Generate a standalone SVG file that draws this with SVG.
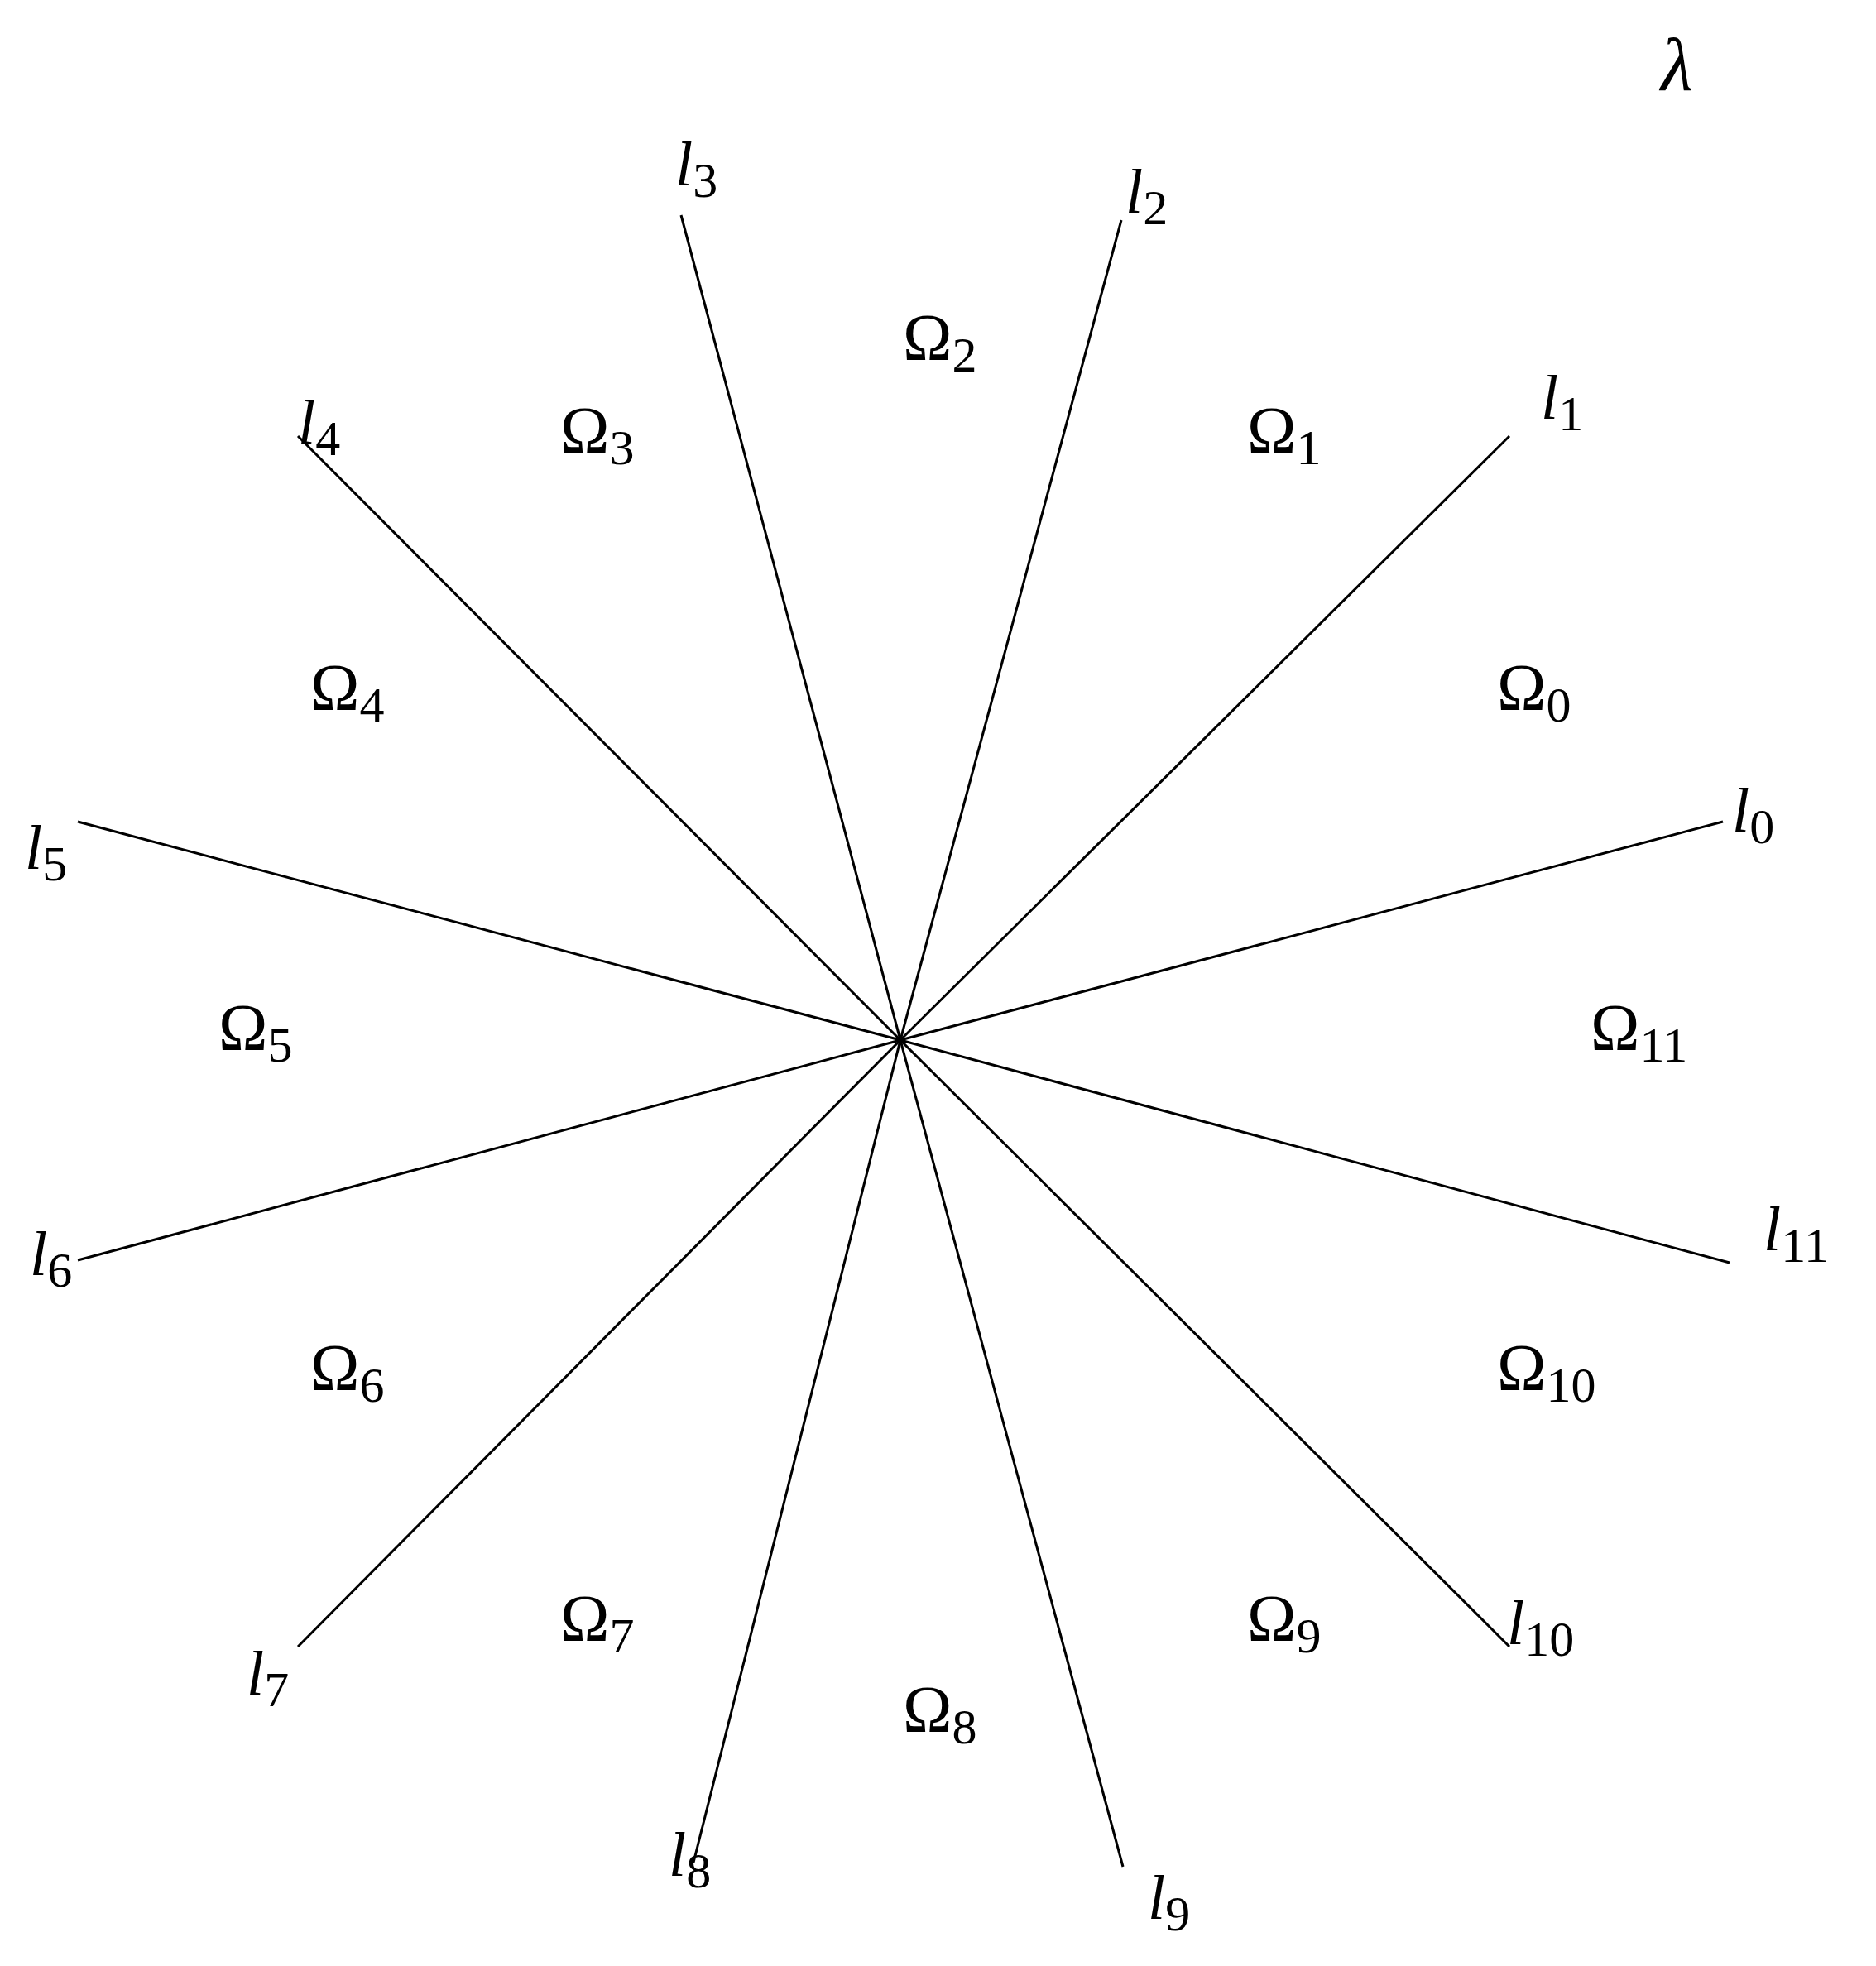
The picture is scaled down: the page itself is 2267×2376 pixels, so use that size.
<svg xmlns="http://www.w3.org/2000/svg" width="2267" height="2376" viewBox="0 0 2267 2376">
<style>
.ln{stroke:#000;stroke-width:3;fill:none}
.l{font-family:"Liberation Serif",serif;font-style:italic;font-size:76px}
.o{font-family:"Liberation Serif",serif;font-size:80px}
.s{font-style:normal;font-size:60px}
</style>
<rect width="2267" height="2376" fill="#fff"/>
<g id="lines">
<line class="ln" x1="1088" y1="1257" x2="2082" y2="993"/>
<line class="ln" x1="1088" y1="1257" x2="1824" y2="527"/>
<line class="ln" x1="1088" y1="1257" x2="1355" y2="266"/>
<line class="ln" x1="1088" y1="1257" x2="823" y2="260"/>
<line class="ln" x1="1088" y1="1257" x2="360" y2="527"/>
<line class="ln" x1="1088" y1="1257" x2="94" y2="993"/>
<line class="ln" x1="1088" y1="1257" x2="94" y2="1523"/>
<line class="ln" x1="1088" y1="1257" x2="360" y2="1990"/>
<line class="ln" x1="1088" y1="1257" x2="838" y2="2251"/>
<line class="ln" x1="1088" y1="1257" x2="1357" y2="2256"/>
<line class="ln" x1="1088" y1="1257" x2="1824" y2="1990"/>
<line class="ln" x1="1088" y1="1257" x2="2090" y2="1526"/>
</g>
<g id="line-labels" class="l">
<text x="2093" y="1005">l<tspan class="s" dy="14">0</tspan></text>
<text x="1862" y="506">l<tspan class="s" dy="14">1</tspan></text>
<text x="1360" y="257">l<tspan class="s" dy="14">2</tspan></text>
<text x="816" y="224">l<tspan class="s" dy="14">3</tspan></text>
<text x="360" y="536">l<tspan class="s" dy="14">4</tspan></text>
<text x="30" y="1050">l<tspan class="s" dy="14">5</tspan></text>
<text x="36" y="1541">l<tspan class="s" dy="14">6</tspan></text>
<text x="298" y="2048">l<tspan class="s" dy="14">7</tspan></text>
<text x="808" y="2267">l<tspan class="s" dy="14">8</tspan></text>
<text x="1387" y="2319">l<tspan class="s" dy="14">9</tspan></text>
<text x="1821" y="1987">l<tspan class="s" dy="14">10</tspan></text>
<text x="2131" y="1511">l<tspan class="s" dy="14">11</tspan></text>
<text x="2007" y="109" font-size="90">λ</text>
</g>
<g id="regions" class="o">
<text x="1809" y="858">Ω<tspan class="s" dy="14">0</tspan></text>
<text x="1507" y="547">Ω<tspan class="s" dy="14">1</tspan></text>
<text x="1091" y="435">Ω<tspan class="s" dy="14">2</tspan></text>
<text x="677" y="547">Ω<tspan class="s" dy="14">3</tspan></text>
<text x="375" y="858">Ω<tspan class="s" dy="14">4</tspan></text>
<text x="264" y="1269">Ω<tspan class="s" dy="14">5</tspan></text>
<text x="375" y="1680">Ω<tspan class="s" dy="14">6</tspan></text>
<text x="677" y="1983">Ω<tspan class="s" dy="14">7</tspan></text>
<text x="1091" y="2093">Ω<tspan class="s" dy="14">8</tspan></text>
<text x="1507" y="1983">Ω<tspan class="s" dy="14">9</tspan></text>
<text x="1809" y="1680">Ω<tspan class="s" dy="14">10</tspan></text>
<text x="1922" y="1269">Ω<tspan class="s" dy="14">11</tspan></text>
</g>
</svg>
